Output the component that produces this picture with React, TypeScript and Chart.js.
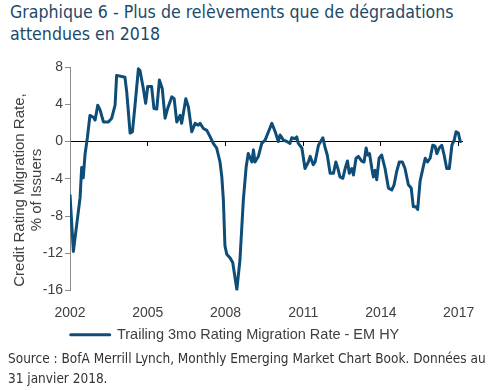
import React, { useEffect, useRef } from "react";
import { Chart, registerables } from "chart.js";

Chart.register(...registerables);

const TITLE_LINES = ["Graphique 6 - Plus de relèvements que de dégradations", "attendues en 2018"];
const SOURCE_LINES = [
  "Source : BofA Merrill Lynch, Monthly Emerging Market Chart Book. Données au",
  "31 janvier 2018.",
];
const SERIES_LABEL = "Trailing 3mo Rating Migration Rate - EM HY";
const Y_TITLE = ["Credit Rating Migration Rate,", "% of Issuers"];
const X_TICKS = [2002, 2005, 2008, 2011, 2014, 2017];
const Y_TICKS = [-16, -12, -8, -4, 0, 4, 8];

const DATES = [
  2002.0, 2002.13, 2002.39, 2002.45, 2002.51, 2002.58, 2002.67, 2002.77, 2002.9, 2002.97,
  2003.07, 2003.16, 2003.29, 2003.48, 2003.61, 2003.74, 2003.8, 2004.12, 2004.19, 2004.32,
  2004.41, 2004.51, 2004.64, 2004.7, 2004.83, 2004.92, 2005.0, 2005.15, 2005.24, 2005.35,
  2005.45, 2005.56, 2005.67, 2005.77, 2005.93, 2006.02, 2006.12, 2006.25, 2006.31, 2006.47,
  2006.57, 2006.7, 2006.83, 2006.95, 2007.02, 2007.15, 2007.28, 2007.41, 2007.53, 2007.66,
  2007.79, 2007.86, 2007.92, 2007.98, 2008.05, 2008.18, 2008.28, 2008.44, 2008.56, 2008.69,
  2008.8, 2008.88, 2009.02, 2009.08, 2009.14, 2009.27, 2009.4, 2009.53, 2009.66, 2009.79,
  2009.92, 2010.04, 2010.11, 2010.24, 2010.37, 2010.49, 2010.56, 2010.69, 2010.75, 2010.81,
  2010.95, 2011.07, 2011.2, 2011.27, 2011.39, 2011.46, 2011.59, 2011.76, 2011.85, 2011.93,
  2012.04, 2012.17, 2012.26, 2012.34, 2012.42, 2012.53, 2012.62, 2012.71, 2012.78, 2012.88,
  2012.94, 2013.04, 2013.13, 2013.26, 2013.35, 2013.43, 2013.49, 2013.56, 2013.65, 2013.71,
  2013.78, 2013.84, 2013.93, 2014.03, 2014.16, 2014.29, 2014.42, 2014.51, 2014.61, 2014.71,
  2014.83, 2014.93, 2015.06, 2015.17, 2015.25, 2015.35, 2015.42, 2015.51, 2015.62, 2015.71,
  2015.8, 2015.9, 2016.0, 2016.09, 2016.16, 2016.25, 2016.35, 2016.44, 2016.54, 2016.64,
  2016.74, 2016.83, 2016.9, 2016.99, 2017.06, 2017.12,
];

const VALUES = [
  -5.7, -11.8, -6.0, -2.8, -3.9, -1.4, 0.4, 2.8, 2.6, 2.3,
  3.9, 3.4, 2.1, 2.1, 2.5, 3.9, 7.1, 6.9, 5.3, 0.9,
  1.05, 3.9, 7.8, 7.65, 5.7, 4.1, 5.9, 5.9, 3.55, 3.5,
  6.6, 5.7, 2.5, 3.55, 4.8, 4.6, 2.1, 2.8, 1.95, 4.6,
  3.7, 1.05, 1.95, 1.75, 1.95, 1.4, 1.2, 0.5, -0.2, -0.7,
  -2.2, -3.8, -6.3, -11.2, -12.1, -12.5, -13.0, -15.9, -12.7, -6.3,
  -2.7, -1.3, -2.2, -0.9, -2.2, -1.6, -0.2, 0.15, 1.05, 1.95,
  1.05, 0.0, 0.7, 0.15, 0.0, -0.2, 0.4, 0.3, 0.5, -0.2,
  -0.7, -2.9, -2.2, -1.6, -2.5, -2.2, -0.4, 0.4, -0.7, -1.45,
  -3.4, -3.4, -2.2, -2.9, -3.8, -3.95, -2.9, -2.1, -3.4, -2.9,
  -3.6, -1.8, -1.6, -2.1, -2.2, -0.7, -1.45, -1.3, -2.9, -3.8,
  -3.1, -4.1, -1.8, -1.45, -2.9, -5.0, -5.2, -4.65, -3.2, -2.2,
  -2.2, -2.9, -4.65, -5.0, -7.0, -7.0, -7.3, -4.3, -2.9, -1.8,
  -2.2, -1.8, -0.4, -0.5, -1.3, -0.7, -0.4, -1.45, -2.9, -2.9,
  -0.4, 0.15, 1.05, 0.9, 0.0, 0.05,
];

const LINE_COLOR = "#0e4d77";
const TEXT_COLOR = "#404040";
const AXIS_COLOR = "#8c8c8c";
const FONT = "'Liberation Sans', Arial, sans-serif";
const TAHOMA_LIKE = "'DejaVu Sans Condensed', 'DejaVu Sans', sans-serif";

export default function App() {
  const canvasRef = useRef<HTMLCanvasElement | null>(null);

  useEffect(() => {
    if (!canvasRef.current) return;
    const points = DATES.map((d, i) => ({ x: d, y: VALUES[i] }));
    const setXTicks = (scale: any) => {
      scale.ticks = X_TICKS.map((v) => ({ value: v }));
    };
    const chart = new Chart(canvasRef.current, {
      type: "line",
      data: {
        datasets: [
          {
            label: SERIES_LABEL,
            data: points,
            borderColor: LINE_COLOR,
            backgroundColor: LINE_COLOR,
            borderWidth: 3,
            pointRadius: 0,
            tension: 0,
            borderJoinStyle: "round",
          },
        ],
      },
      options: {
        animation: false,
        responsive: false,
        maintainAspectRatio: false,
        layout: { padding: { left: 8, right: 30, top: 19, bottom: 0 } },
        plugins: {
          tooltip: { enabled: false },
          legend: {
            position: "bottom",
            labels: {
              boxWidth: 39,
              boxHeight: 0,
              color: TEXT_COLOR,
              font: { family: FONT, size: 14.5 },
              padding: 9,
            },
          },
        },
        scales: {
          x: {
            type: "linear",
            min: 2002,
            max: 2017.13,
            afterBuildTicks: setXTicks,
            afterFit: (s: any) => {
              s.height = 28;
            },
            grid: { display: false, drawTicks: false },
            border: { display: false },
            ticks: {
              autoSkip: false,
              maxRotation: 0,
              padding: 14,
              color: TEXT_COLOR,
              font: { family: FONT, size: 14 },
              callback: (v: any) => String(v),
            },
          },
          x2: {
            type: "linear",
            axis: "x",
            position: { y: 0 },
            min: 2002,
            max: 2017.13,
            afterBuildTicks: setXTicks,
            afterFit: (s: any) => {
              s.height = 0;
            },
            grid: { drawOnChartArea: false, drawTicks: true, tickLength: 4, color: "#000" },
            border: { display: true, color: "#000", width: 1 },
            ticks: { display: false },
          },
          y: {
            type: "linear",
            position: "left",
            min: -16,
            max: 8,
            afterBuildTicks: (scale: any) => {
              scale.ticks = Y_TICKS.map((v) => ({ value: v }));
            },
            afterFit: (s: any) => {
              s.width = 62;
            },
            grid: { drawOnChartArea: false, drawTicks: true, tickLength: 5, color: AXIS_COLOR },
            border: { display: true, color: AXIS_COLOR, width: 1 },
            ticks: {
              padding: 2,
              color: TEXT_COLOR,
              font: { family: FONT, size: 14 },
            },
            title: { display: false },
          },
        },
      },
    });
    return () => chart.destroy();
  }, []);

  return (
    <div style={{ position: "absolute", left: 0, top: 0, width: 492, height: 390, background: "#fff", overflow: "hidden" }}>
      <div
        style={{
          position: "absolute",
          left: 10,
          top: 1,
          fontFamily: TAHOMA_LIKE,
          fontSize: 17.6,
          lineHeight: "22px",
          color: "#1b4a6b",
          whiteSpace: "nowrap",
        }}
      >
        {TITLE_LINES.map((t, i) => (
          <div key={i}>{t}</div>
        ))}
      </div>
      <canvas
        ref={canvasRef}
        width={492}
        height={304}
        style={{ position: "absolute", left: 0, top: 48, width: 492, height: 304 }}
      />
      <div
        style={{
          position: "absolute",
          left: 27 - 130,
          top: 190 - 17,
          width: 260,
          height: 34,
          transform: "rotate(-90deg)",
          transformOrigin: "50% 50%",
          textAlign: "center",
          fontFamily: FONT,
          fontSize: 15,
          lineHeight: "17px",
          color: TEXT_COLOR,
          whiteSpace: "nowrap",
        }}
      >
        {Y_TITLE.map((t, i) => (
          <div key={i}>{t}</div>
        ))}
      </div>
      <div
        style={{
          position: "absolute",
          left: 8,
          top: 348,
          fontFamily: TAHOMA_LIKE,
          fontSize: 13.5,
          lineHeight: "20px",
          color: "#333333",
          whiteSpace: "nowrap",
        }}
      >
        {SOURCE_LINES.map((t, i) => (
          <div key={i}>{t}</div>
        ))}
      </div>
    </div>
  );
}
